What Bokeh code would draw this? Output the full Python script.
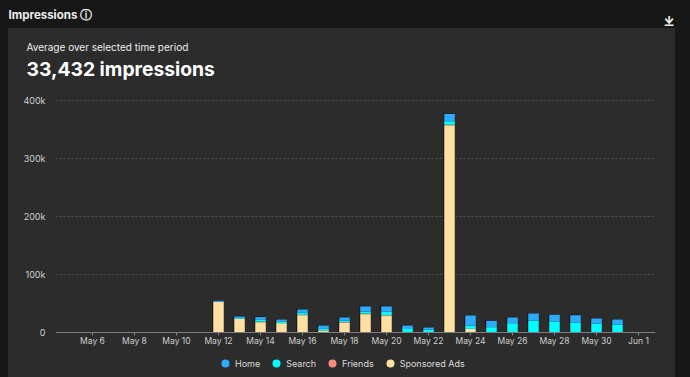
from bokeh.plotting import figure
from bokeh.embed import file_html
from bokeh.resources import INLINE
from bokeh.models import Legend, LegendItem, FixedTicker, GlobalInlineStyleSheet, ColumnDataSource, Range1d, Title
from bokeh.transform import dodge

days = list(range(12, 32))
sponsored = [53, 23.6, 17.8, 16.1, 30, 3.5, 17.3, 31.7, 29.4, 0, 0, 358, 6.3, 0, 0, 0, 0, 0, 0, 0]
friends = [0, 0, 1, 0, 0.6, 0, 0.6, 1, 0.6, 0, 0, 1, 0, 0, 0, 0, 0, 0, 0, 0]
search = [0.3, 1.5, 3, 3, 4, 2.7, 2.4, 3.5, 5.8, 6, 5, 5.7, 5.8, 9.2, 16.1, 20.7, 19, 17.3, 15.5, 13.8]
home = [1.4, 2.5, 4.7, 3.3, 5.1, 5.8, 5.7, 8.8, 9.2, 6, 3.6, 12.7, 17.3, 11, 9.8, 12.1, 11.5, 12.7, 8.6, 8.6]
tick_days = [6, 8, 10, 12, 14, 16, 18, 20, 22, 24, 26, 28, 30, 32]
tick_labels = ["May 6", "May 8", "May 10", "May 12", "May 14", "May 16", "May 18", "May 20", "May 22", "May 24", "May 26", "May 28", "May 30", "Jun 1"]
y_ticks = [0, 100, 200, 300, 400]
y_labels = ["0", "100k", "200k", "300k", "400k"]
series = ["Sponsored Ads", "Friends", "Search", "Home"]
colors = ["#ffe0a3", "#ff8a80", "#00ffff", "#2eaaff"]
legend_order = ["Home", "Search", "Friends", "Sponsored Ads"]
FONT = "Inter"

src = ColumnDataSource(dict(day=days, total=[a + b + c + d + 1 for a, b, c, d in zip(sponsored, friends, search, home)],
                            **dict(zip(series, [sponsored, friends, search, home]))))

p = figure(width=674, height=366, output_backend="svg", toolbar_location=None,
           x_range=Range1d(4.238, 32.81), y_range=Range1d(-76.0, 440.4),
           frame_width=600, frame_height=299,
           min_border_left=47, min_border_right=27, min_border_top=0, min_border_bottom=0,
           border_fill_color=None, background_fill_color=None, outline_line_color=None)
p.stylesheets = [GlobalInlineStyleSheet(css=
    "html{overflow:hidden;background:linear-gradient(#2c2c2c,#2c2c2c) 8px 28px/667px 349px no-repeat,#171717}body{background:transparent;margin:9px 8px 0}")]

p.xgrid.grid_line_color = None
p.ygrid.grid_line_color = "#555555"
p.ygrid.grid_line_dash = "2 2"
p.ygrid.ticker = FixedTicker(ticks=y_ticks[1:])

p.xaxis.fixed_location = 0
p.xaxis.ticker = FixedTicker(ticks=tick_days)
p.xaxis.major_label_overrides = dict(zip(tick_days, tick_labels))
p.xaxis.axis_line_color = "#808080"
p.xaxis.major_tick_line_color = "#808080"
p.xaxis.major_tick_in = 0
p.xaxis.major_tick_out = 3
p.xaxis.minor_tick_line_color = None
p.xaxis.major_label_text_color = "#cfcfcf"
p.xaxis.major_label_text_font = FONT
p.xaxis.major_label_text_font_size = "8.5px"
p.xaxis.major_label_standoff = 1

p.yaxis.ticker = FixedTicker(ticks=y_ticks)
p.yaxis.major_label_overrides = dict(zip(y_ticks, y_labels))
p.yaxis.axis_line_color = None
p.yaxis.major_tick_line_color = None
p.yaxis.minor_tick_line_color = None
p.yaxis.major_tick_in = 0
p.yaxis.major_tick_out = 0
p.yaxis.major_label_text_color = "#cfcfcf"
p.yaxis.major_label_text_font = FONT
p.yaxis.major_label_text_font_size = "9px"
p.yaxis.major_label_standoff = 10

p.vbar(x=dodge("day", -0.05, range=p.x_range), width=0.5, top="total", bottom=0, source=src,
       fill_color="#161616", line_color=None)
p.vbar_stack(series, x="day", width=0.5, source=src, color=colors, line_color=None)

items = []
for name in legend_order:
    r = p.scatter([0], [-50], size=10, marker="circle",
                  fill_color=colors[series.index(name)], line_color=None)
    items.append(LegendItem(label=name, renderers=[r]))
legend = Legend(items=items, orientation="horizontal", location=(160, 3),
                background_fill_color=None, border_line_color=None,
                glyph_width=20, glyph_height=20, label_standoff=0, spacing=6, padding=0, margin=0,
                label_text_color="#dcdcdc", label_text_font=FONT, label_text_font_size="9px")
p.add_layout(legend, "center")

def title(text, size, style, color, standoff, offset=0):
    p.add_layout(Title(text=text, text_color=color, text_font=FONT, text_font_size=size,
                       text_font_style=style, align="left", offset=offset, standoff=standoff), "above")

title("33,432 impressions", "19.3px", "bold", "#ffffff", -6, -29)
title("Average over selected time period", "10px", "normal", "#eeeeee", 10, -29)
title("\u00a0", "13px", "normal", "#eeeeee", -5, 0)
title("⤓", "13px", "bold", "#eeeeee", -16, 608)
title("Impressions ⓘ", "11.5px", "bold", "#eeeeee", -7, -47)

open("out.html", "w").write(file_html(p, INLINE))
